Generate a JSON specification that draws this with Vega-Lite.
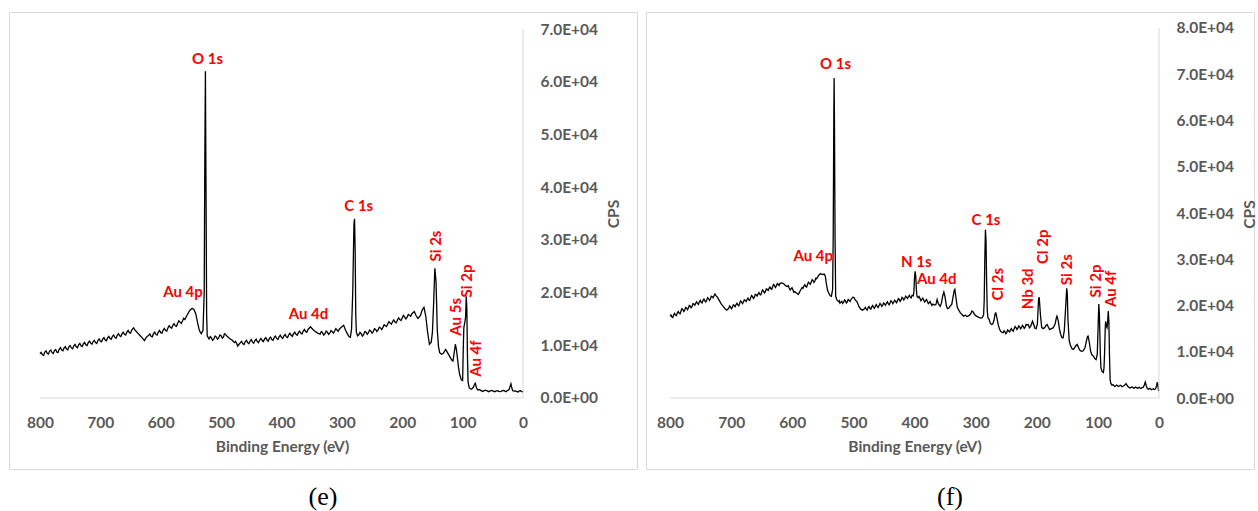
{
  "$schema": "https://vega.github.io/schema/vega-lite/v6.json",
  "padding": {"left": 8, "top": 11, "right": 7, "bottom": 0},
  "spacing": 7,
  "background": "white",
  "config": {
    "view": {"stroke": "#d9d9d9", "strokeWidth": 1},
    "axis": {
      "labelFont": "Lato", "labelFontWeight": "bold", "labelFontSize": 15.5, "labelColor": "#595959",
      "titleFont": "Lato", "titleFontWeight": "bold", "titleFontSize": 15.5, "titleColor": "#595959",
      "domain": false, "ticks": false, "tickSize": 0, "grid": false, "labelOverlap": false, "labelFlush": false
    }
  },
  "datasets": {
    "one": [{}],
    "e": [
      {"E":800,"c":8400},{"E":796,"c":8200},{"E":792,"c":8700},{"E":788,"c":8500},{"E":784,"c":8900},{"E":780,"c":8600},{"E":776,"c":9000},{"E":772,"c":8700},{"E":768,"c":9300},{"E":764,"c":9100},{"E":760,"c":9500},{"E":756,"c":9300},{"E":752,"c":9700},{"E":748,"c":9500},{"E":744,"c":9900},{"E":740,"c":9700},{"E":736,"c":10100},{"E":732,"c":9900},{"E":728,"c":10300},{"E":724,"c":10100},{"E":720,"c":10500},{"E":716,"c":10400},{"E":712,"c":10700},{"E":708,"c":10500},{"E":704,"c":10900},{"E":700,"c":10800},{"E":696,"c":11200},{"E":692,"c":11000},{"E":688,"c":11400},{"E":684,"c":11300},{"E":680,"c":11700},{"E":676,"c":11500},{"E":672,"c":11900},{"E":668,"c":11800},{"E":664,"c":12200},{"E":660,"c":12100},{"E":656,"c":12500},{"E":652,"c":12400},{"E":648,"c":12900},{"E":645,"c":13300},{"E":642,"c":12800},{"E":638,"c":12300},{"E":634,"c":11800},{"E":630,"c":11300},{"E":627,"c":10900},{"E":624,"c":11500},{"E":620,"c":11900},{"E":616,"c":11700},{"E":612,"c":12200},{"E":608,"c":12100},{"E":604,"c":12500},{"E":600,"c":12400},{"E":596,"c":12900},{"E":592,"c":12800},{"E":588,"c":13300},{"E":584,"c":13400},{"E":580,"c":13800},{"E":576,"c":13700},{"E":572,"c":14200},{"E":568,"c":14400},{"E":564,"c":14600},{"E":560,"c":14900},{"E":556,"c":15800},{"E":552,"c":16600},{"E":548,"c":17000},{"E":545,"c":16800},{"E":542,"c":16000},{"E":539,"c":14300},{"E":536,"c":12800},{"E":533,"c":12200},{"E":530,"c":12800},{"E":528,"c":20000},{"E":527,"c":45000},{"E":526,"c":62000},{"E":525,"c":40000},{"E":524,"c":16000},{"E":523,"c":11800},{"E":520,"c":11200},{"E":516,"c":11400},{"E":512,"c":11200},{"E":508,"c":11600},{"E":504,"c":11400},{"E":500,"c":11800},{"E":496,"c":11600},{"E":493,"c":12100},{"E":490,"c":11700},{"E":486,"c":11300},{"E":482,"c":11000},{"E":478,"c":10500},{"E":474,"c":10300},{"E":471,"c":10100},{"E":468,"c":10500},{"E":464,"c":10300},{"E":460,"c":10700},{"E":456,"c":10500},{"E":452,"c":10800},{"E":448,"c":10600},{"E":444,"c":10900},{"E":440,"c":10700},{"E":436,"c":11000},{"E":432,"c":10900},{"E":428,"c":11200},{"E":424,"c":11000},{"E":420,"c":11300},{"E":416,"c":11100},{"E":412,"c":11500},{"E":408,"c":11300},{"E":404,"c":11600},{"E":400,"c":11500},{"E":396,"c":11800},{"E":392,"c":11600},{"E":388,"c":12000},{"E":384,"c":11900},{"E":380,"c":12200},{"E":376,"c":12100},{"E":372,"c":12400},{"E":368,"c":12300},{"E":364,"c":12700},{"E":360,"c":12600},{"E":356,"c":13000},{"E":352,"c":13500},{"E":348,"c":13000},{"E":344,"c":12600},{"E":340,"c":12300},{"E":336,"c":12100},{"E":332,"c":12400},{"E":328,"c":12200},{"E":324,"c":12500},{"E":320,"c":12300},{"E":316,"c":12600},{"E":312,"c":12700},{"E":308,"c":12900},{"E":304,"c":13100},{"E":300,"c":13500},{"E":297,"c":13800},{"E":294,"c":12900},{"E":291,"c":12200},{"E":288,"c":11600},{"E":286,"c":11500},{"E":284,"c":13000},{"E":282,"c":20000},{"E":280,"c":33000},{"E":279,"c":34000},{"E":278,"c":28000},{"E":277,"c":16000},{"E":276,"c":12500},{"E":274,"c":11800},{"E":272,"c":12000},{"E":268,"c":12200},{"E":264,"c":12000},{"E":260,"c":12500},{"E":256,"c":12400},{"E":252,"c":12700},{"E":248,"c":12600},{"E":244,"c":13000},{"E":240,"c":12900},{"E":236,"c":13300},{"E":232,"c":13400},{"E":228,"c":13700},{"E":224,"c":14100},{"E":220,"c":14200},{"E":216,"c":14500},{"E":212,"c":14400},{"E":208,"c":14800},{"E":204,"c":14900},{"E":200,"c":15200},{"E":196,"c":15400},{"E":192,"c":15300},{"E":188,"c":15700},{"E":184,"c":16000},{"E":180,"c":16400},{"E":177,"c":15600},{"E":174,"c":15100},{"E":170,"c":15600},{"E":167,"c":16700},{"E":164,"c":17200},{"E":161,"c":15500},{"E":158,"c":12500},{"E":155,"c":10200},{"E":152,"c":10600},{"E":150,"c":12500},{"E":148,"c":18000},{"E":146,"c":24600},{"E":144,"c":22000},{"E":142,"c":13000},{"E":140,"c":9800},{"E":138,"c":8600},{"E":135,"c":8300},{"E":132,"c":8500},{"E":128,"c":9200},{"E":125,"c":8600},{"E":122,"c":8000},{"E":118,"c":7200},{"E":116,"c":7000},{"E":114,"c":8500},{"E":112,"c":10200},{"E":110,"c":9000},{"E":107,"c":6000},{"E":105,"c":4500},{"E":102,"c":3400},{"E":100,"c":3300},{"E":99,"c":9000},{"E":98,"c":13300},{"E":96,"c":14600},{"E":95,"c":15500},{"E":94,"c":19300},{"E":93,"c":17000},{"E":92,"c":8000},{"E":91,"c":3000},{"E":89,"c":1900},{"E":86,"c":1650},{"E":84,"c":1800},{"E":82,"c":2100},{"E":80,"c":2700},{"E":79,"c":2800},{"E":77,"c":1900},{"E":75,"c":1500},{"E":70,"c":1450},{"E":65,"c":1350},{"E":60,"c":1400},{"E":55,"c":1300},{"E":50,"c":1350},{"E":45,"c":1300},{"E":40,"c":1250},{"E":35,"c":1350},{"E":30,"c":1300},{"E":26,"c":1400},{"E":23,"c":1600},{"E":21,"c":2400},{"E":20,"c":2700},{"E":19,"c":2100},{"E":17,"c":1400},{"E":14,"c":1300},{"E":10,"c":1200},{"E":6,"c":1350},{"E":3,"c":1250},{"E":0,"c":1350},
      {"E":798,"c":8650},{"E":794,"c":8100},{"E":790,"c":8950},{"E":786,"c":8350},{"E":782,"c":9100},{"E":778,"c":8450},{"E":774,"c":9200},{"E":770,"c":8650},{"E":766,"c":9550},{"E":762,"c":8950},{"E":758,"c":9750},{"E":754,"c":9150},{"E":750,"c":9950},{"E":746,"c":9350},{"E":742,"c":10150},{"E":738,"c":9550},{"E":734,"c":10350},{"E":730,"c":9750},{"E":726,"c":10550},{"E":722,"c":9950},{"E":718,"c":10800},{"E":714,"c":10200},{"E":710,"c":10950},{"E":706,"c":10350},{"E":702,"c":11200},{"E":698,"c":10650},{"E":694,"c":11450},{"E":690,"c":10850},{"E":686,"c":11700},{"E":682,"c":11150},{"E":678,"c":11950},{"E":674,"c":11350},{"E":670,"c":12200},{"E":666,"c":11650},{"E":662,"c":12500},{"E":658,"c":11950},{"E":654,"c":12800},{"E":650,"c":12300},
      {"E":618,"c":12150},{"E":614,"c":11600},{"E":610,"c":12500},{"E":606,"c":11950},{"E":602,"c":12800},{"E":598,"c":12300},{"E":594,"c":13200},{"E":590,"c":12700},{"E":586,"c":13700},{"E":582,"c":13250},{"E":578,"c":14100},{"E":574,"c":13600},{"E":570,"c":14650},{"E":566,"c":14150},{"E":562,"c":15100},
      {"E":518,"c":11650},{"E":514,"c":10950},{"E":510,"c":11750},{"E":506,"c":11150},{"E":502,"c":11950},{"E":498,"c":11350},{"E":494.5,"c":12200},{"E":476,"c":10750},{"E":472.5,"c":9850},{"E":466,"c":10750},{"E":462,"c":10150},{"E":458,"c":10950},{"E":454,"c":10300},{"E":450,"c":11050},{"E":446,"c":10400},{"E":442,"c":11150},{"E":438,"c":10500},{"E":434,"c":11300},{"E":430,"c":10700},{"E":426,"c":11450},{"E":422,"c":10800},{"E":418,"c":11550},{"E":414,"c":10950},{"E":410,"c":11750},{"E":406,"c":11100},{"E":402,"c":11900},{"E":398,"c":11300},{"E":394,"c":12050},{"E":390,"c":11450},{"E":386,"c":12300},{"E":382,"c":11700},{"E":378,"c":12500},{"E":374,"c":11900},{"E":370,"c":12700},{"E":366,"c":12150},{"E":362,"c":13000},{"E":358,"c":12450},
      {"E":334,"c":12600},{"E":330,"c":11950},{"E":326,"c":12700},{"E":322,"c":12050},{"E":318,"c":12800},{"E":314,"c":12300},{"E":310,"c":13150},{"E":306,"c":12650},
      {"E":270,"c":12450},{"E":266,"c":11750},{"E":262,"c":12600},{"E":258,"c":12100},{"E":254,"c":12900},{"E":250,"c":12300},{"E":246,"c":13150},{"E":242,"c":12600},{"E":238,"c":13450},{"E":234,"c":13000},{"E":230,"c":13900},{"E":226,"c":13550},{"E":222,"c":14500},{"E":218,"c":14000},{"E":214,"c":14800},{"E":210,"c":14250},{"E":206,"c":15200},{"E":202,"c":14700},{"E":198,"c":15650},{"E":194,"c":15000},{"E":190,"c":15850},{"E":186,"c":15500},
      {"E":72,"c":1600},{"E":67,"c":1250},{"E":62,"c":1500},{"E":57,"c":1200},{"E":52,"c":1450},{"E":47,"c":1200},{"E":42,"c":1400},{"E":37,"c":1200},{"E":32,"c":1450},{"E":28,"c":1200},{"E":12,"c":1350},{"E":8,"c":1150},{"E":4,"c":1400},{"E":1,"c":1200}
    ],
    "f": [
      {"E":800,"c":17700},{"E":797,"c":17500},{"E":794,"c":18000},{"E":791,"c":17900},{"E":788,"c":18400},{"E":785,"c":18300},{"E":782,"c":18800},{"E":779,"c":19100},{"E":776,"c":19000},{"E":773,"c":19500},{"E":770,"c":19400},{"E":767,"c":19900},{"E":764,"c":19800},{"E":761,"c":20300},{"E":758,"c":20500},{"E":755,"c":20400},{"E":752,"c":20800},{"E":749,"c":20700},{"E":746,"c":21100},{"E":743,"c":21000},{"E":740,"c":21200},{"E":737,"c":21500},{"E":734,"c":21400},{"E":731,"c":21900},{"E":728,"c":22100},{"E":725,"c":22200},{"E":722,"c":21700},{"E":719,"c":21000},{"E":716,"c":20300},{"E":713,"c":19800},{"E":710,"c":19300},{"E":707,"c":19000},{"E":704,"c":19400},{"E":701,"c":19700},{"E":698,"c":19600},{"E":695,"c":20000},{"E":692,"c":20200},{"E":689,"c":20100},{"E":686,"c":20500},{"E":683,"c":20800},{"E":680,"c":20700},{"E":677,"c":21100},{"E":674,"c":21300},{"E":671,"c":21200},{"E":668,"c":21700},{"E":665,"c":21900},{"E":662,"c":21800},{"E":659,"c":22300},{"E":656,"c":22500},{"E":653,"c":22400},{"E":650,"c":22900},{"E":647,"c":23100},{"E":644,"c":23000},{"E":641,"c":23500},{"E":638,"c":23700},{"E":635,"c":23600},{"E":632,"c":24100},{"E":629,"c":24300},{"E":626,"c":24200},{"E":623,"c":24600},{"E":620,"c":24800},{"E":617,"c":24900},{"E":614,"c":24700},{"E":611,"c":24300},{"E":608,"c":24100},{"E":605,"c":23800},{"E":602,"c":23600},{"E":599,"c":23400},{"E":596,"c":23000},{"E":593,"c":22700},{"E":590,"c":22400},{"E":587,"c":23200},{"E":584,"c":23900},{"E":581,"c":24200},{"E":578,"c":24100},{"E":575,"c":24600},{"E":572,"c":24800},{"E":569,"c":25100},{"E":566,"c":25400},{"E":563,"c":25300},{"E":560,"c":25800},{"E":557,"c":26500},{"E":554,"c":26900},{"E":551,"c":26700},{"E":548,"c":26800},{"E":546,"c":26400},{"E":544,"c":24500},{"E":542,"c":23200},{"E":540,"c":22600},{"E":538,"c":22100},{"E":536,"c":22000},{"E":534,"c":23500},{"E":533,"c":35000},{"E":532,"c":62000},{"E":531.5,"c":69200},{"E":531,"c":60000},{"E":530,"c":35000},{"E":529,"c":22000},{"E":527,"c":21200},{"E":524,"c":20800},{"E":522,"c":20500},{"E":519,"c":20900},{"E":516,"c":20700},{"E":513,"c":21000},{"E":510,"c":20800},{"E":507,"c":21100},{"E":504,"c":21300},{"E":501,"c":21800},{"E":499,"c":21700},{"E":497,"c":21200},{"E":494,"c":20800},{"E":491,"c":19800},{"E":488,"c":19200},{"E":485,"c":19000},{"E":482,"c":19300},{"E":479,"c":19200},{"E":476,"c":19500},{"E":473,"c":19400},{"E":470,"c":19700},{"E":467,"c":19600},{"E":464,"c":19900},{"E":461,"c":19800},{"E":458,"c":20000},{"E":455,"c":20200},{"E":452,"c":20100},{"E":449,"c":20300},{"E":446,"c":20500},{"E":443,"c":20400},{"E":440,"c":20600},{"E":437,"c":20800},{"E":434,"c":20700},{"E":431,"c":20900},{"E":428,"c":21000},{"E":425,"c":21300},{"E":422,"c":21200},{"E":419,"c":21600},{"E":416,"c":21500},{"E":413,"c":21800},{"E":410,"c":21900},{"E":407,"c":21800},{"E":404,"c":22200},{"E":402,"c":22100},{"E":401,"c":23000},{"E":400,"c":26000},{"E":399,"c":27400},{"E":398,"c":26500},{"E":397,"c":23500},{"E":396,"c":22000},{"E":394,"c":21700},{"E":391,"c":21500},{"E":388,"c":21300},{"E":385,"c":21200},{"E":382,"c":21000},{"E":379,"c":20900},{"E":376,"c":20600},{"E":373,"c":20400},{"E":370,"c":20300},{"E":367,"c":20100},{"E":365,"c":20200},{"E":363,"c":21300},{"E":361,"c":20400},{"E":358,"c":19800},{"E":356,"c":20500},{"E":354,"c":22000},{"E":352,"c":22900},{"E":350,"c":21800},{"E":348,"c":20000},{"E":346,"c":19300},{"E":344,"c":19400},{"E":342,"c":19800},{"E":339,"c":20300},{"E":337,"c":21800},{"E":335,"c":23300},{"E":334,"c":23500},{"E":332,"c":21500},{"E":330,"c":19600},{"E":328,"c":19100},{"E":325,"c":18400},{"E":322,"c":18000},{"E":320,"c":17700},{"E":317,"c":17900},{"E":314,"c":17600},{"E":311,"c":17800},{"E":308,"c":18200},{"E":306,"c":18800},{"E":304,"c":18600},{"E":302,"c":18100},{"E":300,"c":17800},{"E":297,"c":17600},{"E":294,"c":17400},{"E":291,"c":17300},{"E":289,"c":17400},{"E":287,"c":18000},{"E":286,"c":21000},{"E":285,"c":30000},{"E":284,"c":36400},{"E":283,"c":34000},{"E":282,"c":25000},{"E":281,"c":19000},{"E":280,"c":17400},{"E":278,"c":17000},{"E":276,"c":16200},{"E":274,"c":15900},{"E":272,"c":16000},{"E":270,"c":16800},{"E":268,"c":18300},{"E":267,"c":18400},{"E":265,"c":17200},{"E":263,"c":15800},{"E":261,"c":14900},{"E":259,"c":14400},{"E":257,"c":14200},{"E":255,"c":14100},{"E":252,"c":14300},{"E":249,"c":14200},{"E":246,"c":14500},{"E":243,"c":14700},{"E":240,"c":14600},{"E":237,"c":15000},{"E":234,"c":15200},{"E":231,"c":15100},{"E":228,"c":15400},{"E":225,"c":15200},{"E":222,"c":15500},{"E":219,"c":15300},{"E":216,"c":15800},{"E":214,"c":15900},{"E":212,"c":15200},{"E":210,"c":15500},{"E":208,"c":16200},{"E":207,"c":16600},{"E":205,"c":15900},{"E":203,"c":15100},{"E":201,"c":15000},{"E":199,"c":16000},{"E":197,"c":21500},{"E":196,"c":21800},{"E":194,"c":18000},{"E":192,"c":15300},{"E":190,"c":15000},{"E":187,"c":15200},{"E":185,"c":15700},{"E":183,"c":15900},{"E":181,"c":15300},{"E":179,"c":14800},{"E":176,"c":15000},{"E":173,"c":15200},{"E":170,"c":16000},{"E":168,"c":17300},{"E":167,"c":17700},{"E":165,"c":16800},{"E":163,"c":15000},{"E":161,"c":13800},{"E":159,"c":13100},{"E":157,"c":13000},{"E":155,"c":14500},{"E":153,"c":19000},{"E":151,"c":23700},{"E":150,"c":22500},{"E":149,"c":17000},{"E":147,"c":12500},{"E":145,"c":11400},{"E":142,"c":10600},{"E":140,"c":10500},{"E":138,"c":10900},{"E":136,"c":11300},{"E":134,"c":11600},{"E":132,"c":11000},{"E":130,"c":10400},{"E":128,"c":10200},{"E":126,"c":10100},{"E":124,"c":10200},{"E":121,"c":10900},{"E":119,"c":12200},{"E":117,"c":13300},{"E":116,"c":13400},{"E":114,"c":12000},{"E":112,"c":10200},{"E":110,"c":9400},{"E":107,"c":9000},{"E":105,"c":8500},{"E":103,"c":8300},{"E":101,"c":9500},{"E":99.5,"c":16000},{"E":98.5,"c":20300},{"E":97.5,"c":18000},{"E":96,"c":9500},{"E":95,"c":6500},{"E":93,"c":5700},{"E":91,"c":5500},{"E":90,"c":6500},{"E":89,"c":10000},{"E":88,"c":15000},{"E":87.3,"c":16600},{"E":86,"c":15500},{"E":85,"c":15200},{"E":84,"c":16500},{"E":83,"c":18800},{"E":82,"c":16500},{"E":81,"c":9000},{"E":80,"c":4000},{"E":79,"c":3200},{"E":77,"c":2800},{"E":74,"c":2700},{"E":71,"c":2600},{"E":68,"c":2700},{"E":65,"c":2600},{"E":62,"c":2650},{"E":59,"c":2550},{"E":56,"c":2800},{"E":54,"c":3100},{"E":52,"c":2700},{"E":49,"c":2300},{"E":46,"c":2250},{"E":43,"c":2300},{"E":40,"c":2200},{"E":37,"c":2250},{"E":34,"c":2200},{"E":31,"c":2150},{"E":28,"c":2250},{"E":26,"c":2300},{"E":24,"c":2800},{"E":22.5,"c":3450},{"E":21,"c":2700},{"E":19,"c":2000},{"E":17,"c":1900},{"E":14,"c":2000},{"E":11,"c":1900},{"E":8,"c":1850},{"E":6,"c":1950},{"E":4,"c":2600},{"E":3,"c":3400},{"E":2,"c":3000},{"E":1,"c":1700},{"E":0,"c":1500},
      {"E":798.5,"c":17950},{"E":795.5,"c":17400},{"E":792.5,"c":18300},{"E":789.5,"c":17800},{"E":786.5,"c":18700},{"E":783.5,"c":18200},{"E":780.5,"c":19300},{"E":777.5,"c":18700},{"E":774.5,"c":19600},{"E":771.5,"c":19100},{"E":768.5,"c":20000},{"E":765.5,"c":19500},{"E":762.5,"c":20400},{"E":759.5,"c":20050},{"E":756.5,"c":20800},{"E":753.5,"c":20250},{"E":750.5,"c":21100},{"E":747.5,"c":20550},{"E":744.5,"c":21400},{"E":741.5,"c":20750},{"E":738.5,"c":21700},{"E":735.5,"c":21100},{"E":732.5,"c":22000},{"E":729.5,"c":21650},{"E":726.5,"c":22500},
      {"E":702.5,"c":19900},{"E":699.5,"c":19300},{"E":696.5,"c":20150},{"E":693.5,"c":19750},{"E":690.5,"c":20500},{"E":687.5,"c":19950},{"E":684.5,"c":21000},{"E":681.5,"c":20400},{"E":678.5,"c":21250},{"E":675.5,"c":20850},{"E":672.5,"c":21600},{"E":669.5,"c":21100},{"E":666.5,"c":22150},{"E":663.5,"c":21500},{"E":660.5,"c":22400},{"E":657.5,"c":22050},{"E":654.5,"c":22800},{"E":651.5,"c":22300},{"E":648.5,"c":23350},{"E":645.5,"c":22700},{"E":642.5,"c":23600},{"E":639.5,"c":23250},{"E":636.5,"c":24000},{"E":633.5,"c":23500},{"E":630.5,"c":24550},{"E":627.5,"c":23900},{"E":624.5,"c":24750},{"E":621.5,"c":24350},
      {"E":606.5,"c":24300},{"E":603.5,"c":23350},{"E":600.5,"c":23850},{"E":597.5,"c":22850},{"E":582.5,"c":23700},{"E":579.5,"c":24500},{"E":576.5,"c":24000},{"E":573.5,"c":25050},{"E":570.5,"c":24600},{"E":567.5,"c":25600},{"E":564.5,"c":25000},{"E":561.5,"c":25900},
      {"E":523,"c":21000},{"E":517.5,"c":20450},{"E":514.5,"c":21200},{"E":511.5,"c":20550},{"E":508.5,"c":21300},{"E":505.5,"c":20850},{"E":480.5,"c":19600},{"E":477.5,"c":19000},{"E":474.5,"c":19800},{"E":471.5,"c":19200},{"E":468.5,"c":20000},{"E":465.5,"c":19400},{"E":462.5,"c":20200},{"E":459.5,"c":19550},{"E":456.5,"c":20450},{"E":453.5,"c":19800},{"E":450.5,"c":20550},{"E":447.5,"c":20050},{"E":444.5,"c":20800},{"E":441.5,"c":20150},{"E":438.5,"c":21050},{"E":435.5,"c":20400},{"E":432.5,"c":21150},{"E":429.5,"c":20600},{"E":426.5,"c":21500},{"E":423.5,"c":20900},{"E":420.5,"c":21750},{"E":417.5,"c":21200},{"E":414.5,"c":22000},{"E":411.5,"c":21500},{"E":408.5,"c":22200},{"E":405.5,"c":21650},
      {"E":392.5,"c":21950},{"E":389.5,"c":21050},{"E":386.5,"c":21600},{"E":383.5,"c":20750},{"E":380.5,"c":21300},{"E":377.5,"c":20400},{"E":374.5,"c":20850},{"E":371.5,"c":20000},
      {"E":253.5,"c":14550},{"E":250.5,"c":13900},{"E":247.5,"c":14700},{"E":244.5,"c":14250},{"E":241.5,"c":15000},{"E":238.5,"c":14450},{"E":235.5,"c":15450},{"E":232.5,"c":14800},{"E":229.5,"c":15600},{"E":226.5,"c":14950},{"E":223.5,"c":15700},{"E":220.5,"c":15050},{"E":217.5,"c":15900},
      {"E":75.5,"c":2900},{"E":72.5,"c":2500},{"E":69.5,"c":2800},{"E":66.5,"c":2500},{"E":63.5,"c":2750},{"E":60.5,"c":2450},{"E":50.5,"c":2450},{"E":47.5,"c":2150},{"E":44.5,"c":2400},{"E":41.5,"c":2100},{"E":38.5,"c":2350},{"E":35.5,"c":2100},{"E":32.5,"c":2300},{"E":29.5,"c":2050},{"E":15.5,"c":2100},{"E":12.5,"c":1800},{"E":9.5,"c":2000}
    ],
    "eH": [
      {"E":522.6,"c":64400,"label":"O 1s"},
      {"E":272,"c":36480,"label":"C 1s"},
      {"E":563.1,"c":20200,"label":"Au 4p"},
      {"E":355.3,"c":15880,"label":"Au 4d"}
    ],
    "eV": [
      {"E":143.3,"c":28830,"label":"Si 2s"},
      {"E":93.1,"c":22200,"label":"Si 2p"},
      {"E":111.5,"c":15400,"label":"Au 5s"},
      {"E":77.9,"c":7490,"label":"Au 4f"}
    ],
    "fH": [
      {"E":529.2,"c":72170,"label":"O 1s"},
      {"E":565.6,"c":30770,"label":"Au 4p"},
      {"E":397,"c":29510,"label":"N 1s"},
      {"E":363.7,"c":25660,"label":"Au 4d"},
      {"E":283,"c":38550,"label":"C 1s"}
    ],
    "fV": [
      {"E":263.4,"c":24580,"label":"Cl 2s"},
      {"E":214.3,"c":23610,"label":"Nb 3d"},
      {"E":190.3,"c":32690,"label":"Cl 2p"},
      {"E":150.8,"c":27740,"label":"Si 2s"},
      {"E":102.3,"c":25300,"label":"Si 2p"},
      {"E":79.3,"c":23610,"label":"Au 4f"}
    ]
  },
  "hconcat": [
    {
      "width": 628,
      "height": 457,
      "title": {"text": "(e)", "orient": "bottom", "anchor": "middle", "font": "Liberation Serif", "fontSize": 26, "fontWeight": "normal", "color": "#000000", "offset": 15},
      "layer": [
        {
          "data": {"name": "e"},
          "mark": {"type": "line", "color": "#000000", "strokeWidth": 1.3},
          "encoding": {
            "x": {"field": "E", "type": "quantitative", "scale": {"domain": [-188.8, 851.3], "reverse": true, "nice": false, "zero": false},
                  "axis": {"orient": "bottom", "offset": -71, "values": [800,700,600,500,400,300,200,100,0], "labelPadding": 17, "title": "Binding Energy (eV)", "titlePadding": 9, "titleX": 273}},
            "y": {"field": "c", "type": "quantitative", "scale": {"domain": [-13469, 73225], "nice": false, "zero": false},
                  "axis": {"orient": "right", "offset": -114, "values": [0,10000,20000,30000,40000,50000,60000,70000], "labelPadding": 17, "labelAlign": "left",
                           "labelExpr": "datum.value == 0 ? '0.0E+00' : format(datum.value / 10000, '.1f') + 'E+04'",
                           "title": "CPS", "titleAngle": 270, "titlePadding": 24, "titleY": 201.5}}
          }
        },
        {
          "data": {"name": "one"},
          "mark": {"type": "rule", "color": "#d9d9d9", "strokeWidth": 1},
          "encoding": {"x": {"datum": 800, "type": "quantitative"}, "x2": {"datum": 0}, "y": {"datum": 0, "type": "quantitative"}}
        },
        {
          "data": {"name": "one"},
          "mark": {"type": "rule", "color": "#d9d9d9", "strokeWidth": 1},
          "encoding": {"x": {"datum": 0, "type": "quantitative"}, "y": {"datum": 0, "type": "quantitative"}, "y2": {"datum": 70000}}
        },
        {
          "data": {"name": "eH"},
          "mark": {"type": "text", "font": "Lato", "fontWeight": "bold", "fontSize": 15, "color": "#ff0000", "align": "center", "baseline": "middle"},
          "encoding": {"x": {"field": "E", "type": "quantitative"}, "y": {"field": "c", "type": "quantitative"}, "text": {"field": "label"}}
        },
        {
          "data": {"name": "eV"},
          "mark": {"type": "text", "font": "Lato", "fontWeight": "bold", "fontSize": 15, "color": "#ff0000", "align": "center", "baseline": "middle", "angle": 270},
          "encoding": {"x": {"field": "E", "type": "quantitative"}, "y": {"field": "c", "type": "quantitative"}, "text": {"field": "label"}}
        }
      ]
    },
    {
      "width": 608,
      "height": 457,
      "title": {"text": "(f)", "orient": "bottom", "anchor": "middle", "font": "Liberation Serif", "fontSize": 26, "fontWeight": "normal", "color": "#000000", "offset": 15},
      "layer": [
        {
          "data": {"name": "f"},
          "mark": {"type": "line", "color": "#000000", "strokeWidth": 1.3},
          "encoding": {
            "x": {"field": "E", "type": "quantitative", "scale": {"domain": [-155.4, 839.3], "reverse": true, "nice": false, "zero": false},
                  "axis": {"orient": "bottom", "offset": -71, "values": [800,700,600,500,400,300,200,100,0], "labelPadding": 17, "title": "Binding Energy (eV)", "titlePadding": 9, "titleX": 268.5}},
            "y": {"field": "c", "type": "quantitative", "scale": {"domain": [-15350, 83459], "nice": false, "zero": false},
                  "axis": {"orient": "right", "offset": -95, "values": [0,10000,20000,30000,40000,50000,60000,70000,80000], "labelPadding": 17, "labelAlign": "left",
                           "labelExpr": "datum.value == 0 ? '0.0E+00' : format(datum.value / 10000, '.1f') + 'E+04'",
                           "title": "CPS", "titleAngle": 270, "titlePadding": 24, "titleY": 202}}
          }
        },
        {
          "data": {"name": "one"},
          "mark": {"type": "rule", "color": "#d9d9d9", "strokeWidth": 1},
          "encoding": {"x": {"datum": 800, "type": "quantitative"}, "x2": {"datum": 0}, "y": {"datum": 0, "type": "quantitative"}}
        },
        {
          "data": {"name": "one"},
          "mark": {"type": "rule", "color": "#d9d9d9", "strokeWidth": 1},
          "encoding": {"x": {"datum": 0, "type": "quantitative"}, "y": {"datum": 0, "type": "quantitative"}, "y2": {"datum": 80000}}
        },
        {
          "data": {"name": "fH"},
          "mark": {"type": "text", "font": "Lato", "fontWeight": "bold", "fontSize": 15, "color": "#ff0000", "align": "center", "baseline": "middle"},
          "encoding": {"x": {"field": "E", "type": "quantitative"}, "y": {"field": "c", "type": "quantitative"}, "text": {"field": "label"}}
        },
        {
          "data": {"name": "fV"},
          "mark": {"type": "text", "font": "Lato", "fontWeight": "bold", "fontSize": 15, "color": "#ff0000", "align": "center", "baseline": "middle", "angle": 270},
          "encoding": {"x": {"field": "E", "type": "quantitative"}, "y": {"field": "c", "type": "quantitative"}, "text": {"field": "label"}}
        }
      ]
    }
  ]
}
